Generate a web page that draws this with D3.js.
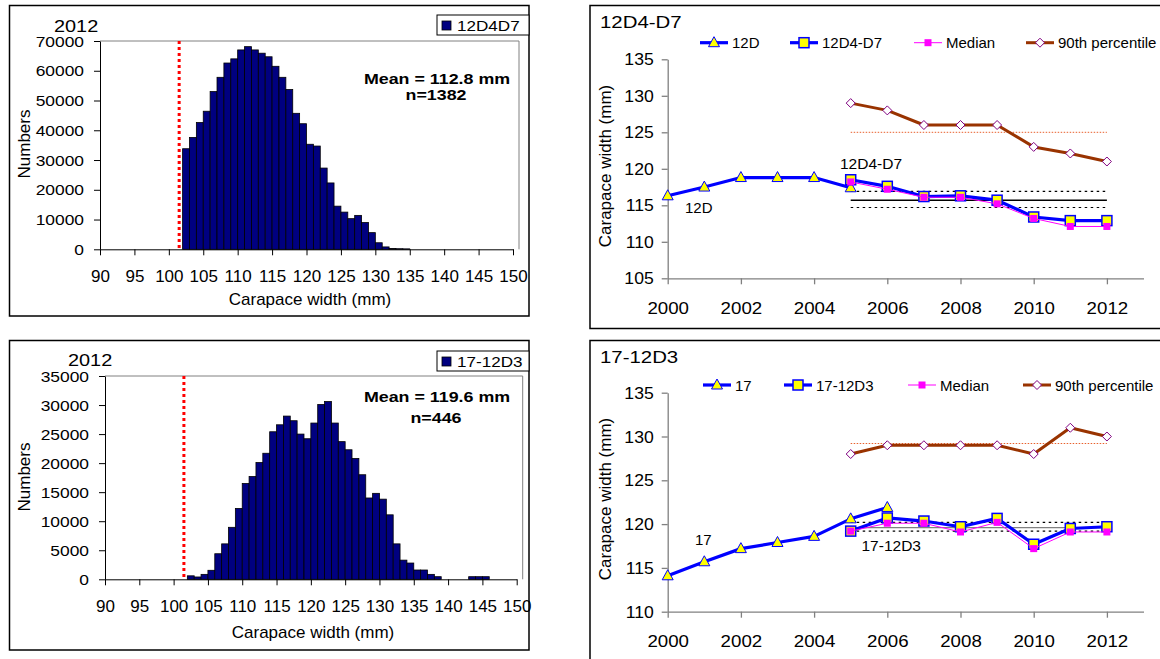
<!DOCTYPE html>
<html>
<head>
<meta charset="utf-8">
<script src="https://cdn.jsdelivr.net/npm/d3@7/dist/d3.min.js"></script>
<style>
body { margin: 0; background: #fff; }
svg { display: block; }
text { font-family: "Liberation Sans", Arial, sans-serif; fill: #000; }
</style>
</head>
<body>
<script>
// histogram 12D4D7, 2012 (1 mm bins, left edge)
var bins1 = [102, 103, 104, 105, 106, 107, 108, 109, 110, 111, 112, 113, 114, 115, 116, 117, 118,
  119, 120, 121, 122, 123, 124, 125, 126, 127, 128, 129, 130, 131, 132, 133, 134];
var counts1 = [33800, 37600, 42600, 46400, 53000, 57800, 62600, 64000, 67000, 68100, 67000, 65900,
  64700, 61500, 57800, 53700, 45700, 42200, 35300, 34700, 27300, 22300, 14500, 12500, 10300,
  11400, 9000, 5600, 2200, 800, 250, 200, 150];
// histogram 17-12D3, 2012
var bins2 = [102, 103, 104, 105, 106, 107, 108, 109, 110, 111, 112, 113, 114, 115, 116, 117, 118,
  119, 120, 121, 122, 123, 124, 125, 126, 127, 128, 129, 130, 131, 132, 133, 134, 135, 136, 137,
  138, 139, 140, 141, 142, 143, 144, 145];
var counts2 = [600, 400, 850, 1550, 4400, 6100, 8950, 12200, 16500, 17700, 20100, 21700, 25400,
  26600, 28100, 27300, 25000, 24200, 26900, 30100, 30600, 26900, 23700, 22300, 20800, 18000,
  14000, 14800, 13800, 11100, 6100, 3300, 2800, 1600, 1600, 850, 450, 0, 0, 0, 0, 450, 450, 450];
var xTicksHist = [90, 95, 100, 105, 110, 115, 120, 125, 130, 135, 140, 145, 150];
var yTicksHist1 = [0, 10000, 20000, 30000, 40000, 50000, 60000, 70000];
var yTicksHist2 = [0, 5000, 10000, 15000, 20000, 25000, 30000, 35000];
var minSize = 101.5;

// time series
var yearsA = [2000, 2001, 2002, 2003, 2004, 2005, 2006];
var yearsB = [2005, 2006, 2007, 2008, 2009, 2010, 2011, 2012];
var s12D = [116.3, 117.5, 118.8, 118.8, 118.8, 117.4];
var s12D4D7 = [118.5, 117.6, 116.2, 116.3, 115.7, 113.4, 112.9, 112.9];
var med1 = [118.2, 117.2, 116.1, 116.1, 115.2, 113.2, 112.1, 112.1];
var p90_1 = [129, 128, 126, 126, 126, 123, 122.1, 121];
var ref1 = [125, 116.9, 115.7, 114.7];
var s17 = [114.1, 115.7, 117.2, 117.9, 118.6, 120.6, 121.9];
var s1712D3 = [119.2, 120.7, 120.35, 119.7, 120.65, 117.7, 119.5, 119.7];
var med2 = [119.2, 120.1, 120.1, 119.1, 120.2, 117.2, 119.1, 119.1];
var p90_2 = [128, 129, 129, 129, 129, 128, 131, 130];
var ref2 = [129.2, 120.2, 119.6, 119.2];
var xTicksYear = [2000, 2002, 2004, 2006, 2008, 2010, 2012];

var svg = d3.select("body").append("svg")
  .attr("width", 1160)
  .attr("height", 659);

function label(g, x, y, s, size, sx, anchor, weight) {
  return g.append("text")
    .attr("transform", "translate(" + x + "," + y + ") scale(" + sx + ",1)")
    .attr("text-anchor", anchor || "start")
    .attr("font-size", size)
    .attr("font-weight", weight || "normal")
    .text(s);
}

function hist(o) {
  var g = svg.append("g");
  g.append("rect")
    .attr("x", o.box[0]).attr("y", o.box[1])
    .attr("width", o.box[2] - o.box[0]).attr("height", o.box[3] - o.box[1])
    .attr("fill", "#fff").attr("stroke", "#000").attr("stroke-width", 1.5);
  var x = d3.scaleLinear().domain([90, 150]).range([o.x0, o.x1]);
  var y = d3.scaleLinear().domain([0, o.yMax]).range([o.y0, o.y1]);
  // plot area border (top, right)
  g.append("path")
    .attr("d", "M" + o.x0 + "," + o.y1 + "H" + o.pr + "V" + o.y0)
    .attr("fill", "none").attr("stroke", "#808080").attr("stroke-width", 1);
  g.append("g").selectAll("rect")
    .data(o.bins.map(function (b, i) { return [b, o.counts[i]]; }))
    .enter().append("rect")
    .attr("x", function (d) { return x(d[0]); })
    .attr("width", x(91) - x(90))
    .attr("y", function (d) { return y(d[1]); })
    .attr("height", function (d) { return y(0) - y(d[1]); })
    .attr("fill", "#000080")
    .attr("stroke", "#000")
    .attr("stroke-width", 0.8);
  g.append("line")
    .attr("x1", x(minSize)).attr("x2", x(minSize))
    .attr("y1", o.y1).attr("y2", o.y0)
    .attr("stroke", "#ff0000").attr("stroke-width", 3)
    .attr("stroke-dasharray", "3,3");
  var ya = g.append("g")
    .attr("transform", "translate(" + o.x0 + ",0)")
    .call(d3.axisLeft(y).tickValues(o.yTicks).tickSize(6).tickSizeOuter(0).tickFormat(d3.format("d")));
  ya.selectAll(".tick text")
    .attr("x", null).attr("dy", null).attr("fill", "#000")
    .attr("font-size", 14.5)
    .attr("transform", "translate(-16,5.2) scale(1.2,1)");
  var xa = g.append("g")
    .attr("transform", "translate(0," + o.y0 + ")")
    .call(d3.axisBottom(x).tickValues(xTicksHist).tickSize(6).tickSizeOuter(0));
  xa.selectAll(".tick text")
    .attr("y", 33).attr("dy", null).attr("fill", "#000")
    .attr("font-size", 17);
  g.selectAll(".domain, .tick line").attr("stroke", "#000");
  ya.attr("font-family", null);
  xa.attr("font-family", null);

  label(g, o.yearX, o.yearY, "2012", 17, 1.17);
  g.append("text")
    .attr("transform", "translate(" + (o.box[0] + 20.5) + "," + o.numY + ") rotate(-90)")
    .attr("text-anchor", "middle").attr("font-size", 17).text("Numbers");
  label(g, o.titleX, o.titleY, "Carapace width (mm)", 17, 1, "middle");
  label(g, 437, o.meanY, o.mean, 14.5, 1.23, "middle", "bold");
  label(g, 436, o.nY, o.n, 14.5, 1.23, "middle", "bold");
  // legend
  g.append("rect")
    .attr("x", 437).attr("y", o.legY)
    .attr("width", o.box[2] - 437).attr("height", 20)
    .attr("fill", "#fff").attr("stroke", "#000").attr("stroke-width", 1);
  g.append("rect")
    .attr("x", 442).attr("y", o.legY + 6)
    .attr("width", 9).attr("height", 9)
    .attr("fill", "#000080").attr("stroke", "#000").attr("stroke-width", 0.8);
  label(g, 457, o.legY + 16, o.legend, 14, 1.22);
}

hist({
  box: [9.5, 5.5, 529, 316], x0: 100, x1: 513, pr: 519, y0: 249.3, y1: 41,
  yMax: 70000, yTicks: yTicksHist1, bins: bins1, counts: counts1,
  yearX: 54, yearY: 31.5, numY: 144, titleX: 310, titleY: 305,
  mean: "Mean = 112.8 mm", n: "n=1382", meanY: 84, nY: 100,
  legY: 15, legend: "12D4D7"
});
hist({
  box: [9.5, 340.5, 529, 650], x0: 105, x1: 516.7, pr: 522.7, y0: 579.3, y1: 376,
  yMax: 35000, yTicks: yTicksHist2, bins: bins2, counts: counts2,
  yearX: 68, yearY: 365.5, numY: 477, titleX: 313, titleY: 638,
  mean: "Mean = 119.6 mm", n: "n=446", meanY: 401.5, nY: 423,
  legY: 351, legend: "17-12D3"
});

function tri(g, cx, cy) {
  g.append("path")
    .attr("d", "M" + cx + "," + (cy - 6) + "L" + (cx + 5.5) + "," + (cy + 4) + "L" + (cx - 5.5) + "," + (cy + 4) + "Z")
    .attr("fill", "#ffff00").attr("stroke", "#0000ff").attr("stroke-width", 1);
}
function sq(g, cx, cy) {
  g.append("rect")
    .attr("x", cx - 5).attr("y", cy - 5).attr("width", 10).attr("height", 10)
    .attr("fill", "#ffff00").attr("stroke", "#0000ff").attr("stroke-width", 1.5);
}
function msq(g, cx, cy) {
  g.append("rect")
    .attr("x", cx - 3.5).attr("y", cy - 3.5).attr("width", 7).attr("height", 7)
    .attr("fill", "#ff00ff");
}
function dia(g, cx, cy) {
  g.append("path")
    .attr("d", "M" + cx + "," + (cy - 4.5) + "L" + (cx + 4.5) + "," + cy + "L" + cx + "," + (cy + 4.5) + "L" + (cx - 4.5) + "," + cy + "Z")
    .attr("fill", "#fff").attr("stroke", "#800080").attr("stroke-width", 1);
}

function series(g, x, y, yrs, vals, color, width, marker) {
  var pts = yrs.slice(0, vals.length).map(function (yr, i) { return [yr, vals[i]]; });
  g.append("path")
    .attr("d", d3.line().x(function (d) { return x(d[0]); }).y(function (d) { return y(d[1]); })(pts))
    .attr("fill", "none").attr("stroke", color).attr("stroke-width", width)
    .attr("stroke-linejoin", "round");
  pts.forEach(function (d) { marker(g, x(d[0]), y(d[1])); });
}

function trend(o) {
  var g = svg.append("g");
  g.append("rect")
    .attr("x", 590).attr("y", o.top)
    .attr("width", 575).attr("height", o.bottom - o.top)
    .attr("fill", "#fff").attr("stroke", "#000").attr("stroke-width", 1.5);
  var x = d3.scaleLinear().domain([2000, 2013]).range([667.7, 1143.5]);
  var y = d3.scaleLinear().domain([o.yMin, 135]).range([o.y0, o.y1]);
  var ya = g.append("g")
    .attr("transform", "translate(667.7,0)")
    .call(d3.axisLeft(y).ticks(6).tickSize(6).tickSizeOuter(0));
  ya.selectAll(".tick text")
    .attr("x", null).attr("dy", null).attr("fill", "#000").attr("font-size", 16)
    .attr("transform", "translate(-14,5.5) scale(1.1,1)");
  var xa = g.append("g")
    .attr("transform", "translate(0," + o.y0 + ")")
    .call(d3.axisBottom(x).tickValues(xTicksYear).tickSize(6).tickSizeOuter(0).tickFormat(d3.format("d")));
  xa.selectAll(".tick text")
    .attr("y", null).attr("dy", null).attr("fill", "#000").attr("font-size", 17)
    .attr("transform", "translate(0,35.5) scale(1.1,1)");
  ya.attr("font-family", null);
  xa.attr("font-family", null);
  g.selectAll(".domain, .tick line").attr("stroke", "#808080").attr("stroke-width", 1.3);

  // reference lines
  var styles = [
    { c: "#e8602c", w: 1, d: "1.5,1.5" },
    { c: "#000", w: 1.2, d: "2.5,3.5" },
    { c: o.meanColor, w: 1.4, d: null },
    { c: "#000", w: 1.2, d: "2.5,3.5" }
  ];
  o.refs.forEach(function (v, i) {
    g.append("line")
      .attr("x1", x(2005)).attr("x2", x(2012))
      .attr("y1", y(v)).attr("y2", y(v))
      .attr("stroke", styles[i].c).attr("stroke-width", styles[i].w)
      .attr("stroke-dasharray", styles[i].d);
  });

  series(g, x, y, yearsB, o.p90, "#993300", 3, dia);
  series(g, x, y, yearsA, o.a, "#0000ff", 3.2, tri);
  series(g, x, y, yearsB, o.b, "#0000ff", 3.2, sq);
  series(g, x, y, yearsB, o.med, "#ff00ff", 1, msq);

  label(g, 600, o.top + 22, o.title, 17, 1.2);
  label(g, o.aLab[0], o.aLab[1], o.aName, 15, 1);
  label(g, o.bLab[0], o.bLab[1], o.bName, 15.5, 1);
  g.append("text")
    .attr("transform", "translate(611," + o.yTitle + ") rotate(-90)")
    .attr("text-anchor", "middle").attr("font-size", 17).text("Carapace width (mm)");

  // legend
  var ly = o.legY;
  var items = [
    [o.aName, "#0000ff", 3.2, tri],
    [o.bName, "#0000ff", 3.2, sq],
    ["Median", "#ff00ff", 1, msq],
    ["90th percentile", "#993300", 3, dia]
  ];
  items.forEach(function (it, i) {
    var lx = o.legX[i];
    g.append("line")
      .attr("x1", lx).attr("x2", lx + 28).attr("y1", ly).attr("y2", ly)
      .attr("stroke", it[1]).attr("stroke-width", it[2]);
    it[3](g, lx + 14, ly);
    label(g, lx + 32, ly + 5.5, it[0], 15, 1);
  });
}

trend({
  top: 5.5, bottom: 328.5, yMin: 105, y0: 278.3, y1: 59.3,
  title: "12D4-D7", aName: "12D", bName: "12D4-D7",
  a: s12D, b: s12D4D7, med: med1, p90: p90_1, refs: ref1, meanColor: "#000",
  aLab: [685, 213], bLab: [840, 168.5], yTitle: 166,
  legY: 42.7, legX: [700, 790, 914, 1026]
});
trend({
  top: 340.5, bottom: 700, yMin: 110, y0: 611.7, y1: 392.7,
  title: "17-12D3", aName: "17", bName: "17-12D3",
  a: s17, b: s1712D3, med: med2, p90: p90_2, refs: ref2, meanColor: "#808080",
  aLab: [695, 544.5], bLab: [861.5, 550.5], yTitle: 499,
  legY: 385, legX: [703, 784, 908, 1023]
});
</script>
</body>
</html>
